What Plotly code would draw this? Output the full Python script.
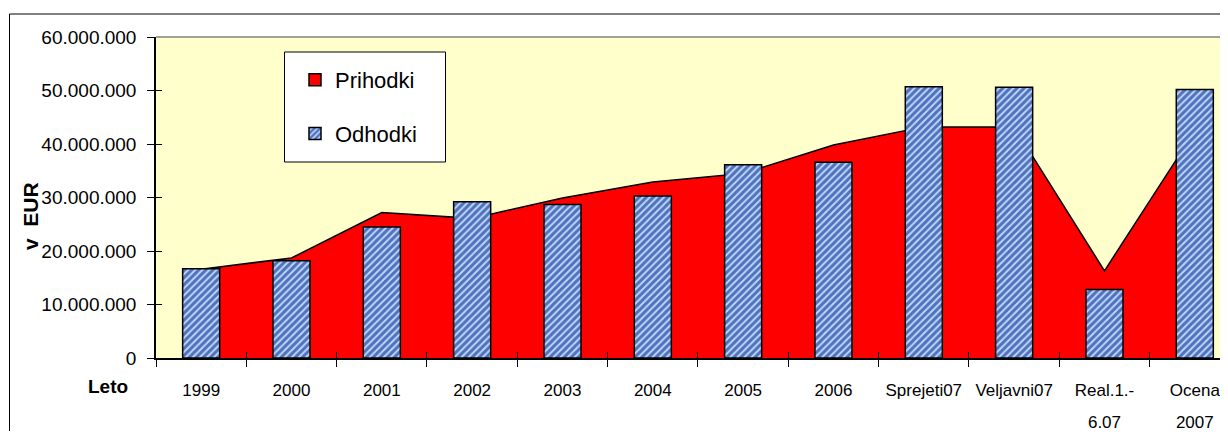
import plotly.graph_objects as go

# ---------------- data ----------------
categories = ["1999", "2000", "2001", "2002", "2003", "2004", "2005", "2006",
              "Sprejeti07", "Veljavni07", "Real.1.-6.07", "Ocena 2007"]
label_line1 = ["1999", "2000", "2001", "2002", "2003", "2004", "2005", "2006",
               "Sprejeti07", "Veljavni07", "Real.1.-", "Ocena"]
label_line2 = ["", "", "", "", "", "", "", "", "", "", "6.07", "2007"]

prihodki = [16.6e6, 18.7e6, 27.2e6, 26.1e6, 29.9e6, 32.9e6, 34.5e6, 39.8e6,
            43.2e6, 43.2e6, 16.3e6, 42.4e6]
odhodki = [16.7e6, 18.2e6, 24.5e6, 29.2e6, 28.7e6, 30.3e6, 36.1e6, 36.6e6,
           50.7e6, 50.6e6, 12.8e6, 50.2e6]

y_range = [0, 60e6]
y_dtick = 10e6
x_range = [-0.5, 11.279]

FONT = "Liberation Sans, Arial, sans-serif"

fig = go.Figure()

# area (base subplot, drawn beneath the bars)
fig.add_trace(go.Scatter(
    x=categories, y=prihodki, mode="lines", fill="tozeroy",
    fillcolor="#FF0000", line=dict(color="black", width=1.5),
    name="Prihodki", showlegend=False, hoverinfo="skip",
    xaxis="x", yaxis="y"))

# legend swatch for the area
fig.add_trace(go.Bar(
    x=[None], y=[None], name="Prihodki", legendgroup="a", legendrank=1,
    marker=dict(color="#FF0000", line=dict(color="black", width=1.5)),
    hoverinfo="skip", xaxis="x", yaxis="y"))

# bars on overlay subplot (drawn above the area)
fig.add_trace(go.Bar(
    x=categories, y=odhodki, name="Odhodki", legendgroup="b", legendrank=2,
    marker=dict(color="#b0dcfa",
                line=dict(color="black", width=1.5),
                pattern=dict(shape="/", fgcolor="#000080", bgcolor="#b0dcfa",
                             size=5, solidity=0.6)),
    hoverinfo="skip", xaxis="x2", yaxis="y2"))

OFF = 8  # page body margin
W, H = 1212, 423
L, T, B, R = 148, 29, 73, 0
pw = W - L - R
ph = H - T - B


def px(xs):
    return (xs - OFF - L) / pw


def py(ys):
    return (H - B - (ys - OFF)) / ph


bx0, bx1, by0, by1 = px(9.5), px(1300), py(500), py(14)

fig.update_layout(
    width=W, height=H,
    margin=dict(l=L, r=R, t=T, b=B),
    paper_bgcolor="white", plot_bgcolor="#FFFFCC",
    separators=",.",
    barmode="overlay", bargap=0.59,
    font=dict(family=FONT, color="black"),
    showlegend=True,
    legend=dict(x=px(295), y=py(59), xanchor="left", yanchor="top",
                bgcolor="rgba(0,0,0,0)", borderwidth=0,
                font=dict(size=22, family=FONT), tracegroupgap=22,
                traceorder="grouped"),
    xaxis=dict(type="category", categoryorder="array", categoryarray=categories,
               range=x_range, tickmode="array", tickvals=categories,
               ticktext=label_line1, tickson="boundaries", ticks="outside",
               ticklen=7, tickcolor="black", tickwidth=1,
               showline=True, linecolor="black", linewidth=1.5,
               showgrid=False, zeroline=False, fixedrange=True,
               tickfont=dict(size=17, family=FONT), ticklabelstandoff=16),
    yaxis=dict(range=y_range, dtick=y_dtick, tickformat=",d",
               ticks="outside", ticklen=7, tickcolor="black", tickwidth=1,
               showline=True, linecolor="black", linewidth=1.5,
               showgrid=False, zeroline=False, fixedrange=True,
               tickfont=dict(size=19, family=FONT), ticklabelstandoff=7),
    xaxis2=dict(type="category", categoryorder="array", categoryarray=categories,
                range=x_range, overlaying="x", anchor="y2", side="bottom",
                tickmode="array", tickvals=categories, ticktext=label_line2,
                tickson="boundaries", ticks="inside", ticklen=6,
                tickcolor="black", tickwidth=1, showline=False,
                showgrid=False, zeroline=False, fixedrange=True,
                tickfont=dict(size=17, family=FONT), ticklabelstandoff=52),
    yaxis2=dict(range=y_range, dtick=y_dtick, overlaying="y", anchor="x2",
                side="left", ticks="inside", ticklen=6, tickcolor="black",
                tickwidth=1, showticklabels=False, showline=False,
                showgrid=False, zeroline=False, fixedrange=True),
    shapes=[
        # outer chart border: left and top edges (the rest lies outside the picture)
        dict(type="path", xref="paper", yref="paper",
             path=f"M {bx0},{by0} L {bx0},{by1} L {bx1},{by1}",
             line=dict(color="black", width=1), layer="below"),
        # top edge of the plot area
        dict(type="line", xref="paper", yref="paper", x0=0, x1=1, y0=1, y1=1,
             line=dict(color="#808080", width=1.5), layer="above"),
        # legend box
        dict(type="rect", xref="paper", yref="paper",
             x0=px(284.5), x1=px(445.5), y0=py(162), y1=py(52),
             fillcolor="white", line=dict(color="black", width=1),
             layer="above"),
    ],
    annotations=[
        dict(text="<b>Leto</b>", xref="paper", yref="paper",
             x=px(107.5), y=py(387), xanchor="center", yanchor="middle",
             showarrow=False, font=dict(size=19, family=FONT)),
        dict(text="<b>v  EUR</b>", xref="paper", yref="paper",
             x=px(31), y=py(216), xanchor="center", yanchor="middle",
             textangle=-90, showarrow=False, font=dict(size=21, family=FONT)),
    ],
)

fig.write_html("out.html")
